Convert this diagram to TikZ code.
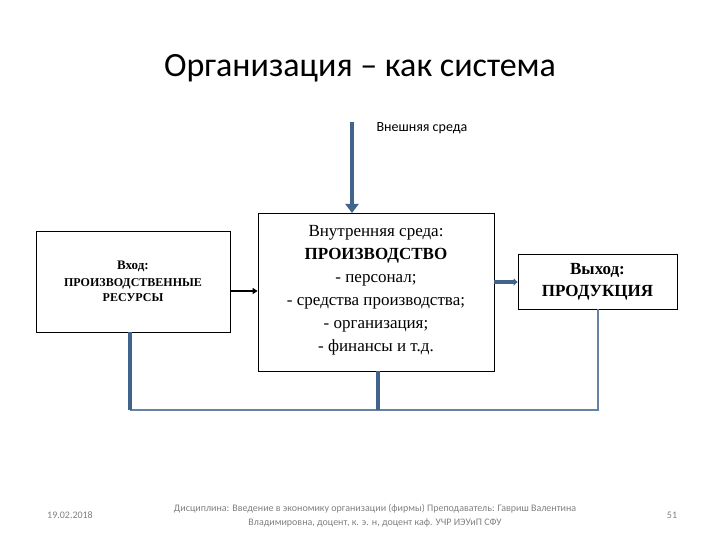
\documentclass[tikz,border=0pt]{standalone}
\usepackage{fontspec}
\setmainfont{Liberation Serif}
\newfontfamily\calfont{Carlito}
\usetikzlibrary{arrows.meta}
\definecolor{linecol}{RGB}{65,100,140}
\begin{document}
\begin{tikzpicture}[x=1pt,y=-1pt,
  box/.style={draw,line width=0.8pt,minimum width=#1,inner sep=0pt,align=center},
  thk/.style={draw=linecol,line width=3.5pt},
  thn/.style={draw=linecol!80,line width=1.2pt}]
\useasboundingbox (0,0) rectangle (720,540);
\node[font=\calfont\fontsize{34}{40}\selectfont] (title) at (360,68) {Организация – как система};
\node[box=194pt,minimum height=101pt] (in) at (133,281.5) {};
\node[align=center,font=\fontsize{12}{15}\selectfont\bfseries] (intext) at (133,281) {{\fontsize{13}{15}\selectfont Вход:}\\[2pt]ПРОИЗВОДСТВЕННЫЕ\\РЕСУРСЫ};
\node[box=236pt,minimum height=158pt] (mid) at (376,292) {};
\node[align=center,font=\fontsize{17}{23}\selectfont] (midtext) at (376,290) {Внутренняя среда:\\\textbf{ПРОИЗВОДСТВО}\\- персонал;\\- средства производства;\\- организация;\\- финансы и т.д.};
\node[box=159pt,minimum height=55pt] (out) at (597.5,281.5) {};
\node[align=center,font=\fontsize{17}{22}\selectfont\bfseries] (outtext) at (597.5,281.5) {Выход:\\ПРОДУКЦИЯ};
\node[font=\calfont\fontsize{14}{16}\selectfont,anchor=west] (env) at (373,128) {Внешняя среда};
\coordinate (top) at (352,122);
\coordinate (cbl) at (130,410);
\coordinate (cbm) at (378,410);
\coordinate (cbr) at (598,410);
\draw[thk,-{Triangle[length=9pt,width=13pt]}] (top) -- (352,213);
\draw[line width=1.5pt,-{Triangle[length=5pt,width=6pt]}] (in.east|-0,291) -- (mid.west|-0,291);
\draw[thk,-{Triangle[length=4pt,width=7pt]}] (mid.east|-0,282) -- (out.west|-0,282);
\draw[thn] (out.south-|cbr) -- (cbr) -- (cbl);
\draw[thk] (cbl) -- (in.south-|cbl);
\draw[thk] (cbm) -- (mid.south-|cbm);
\node[font=\calfont\fontsize{10}{12}\selectfont,text=gray] (date) at (70,515) {19.02.2018};
\node[font=\calfont\fontsize{10}{14}\selectfont,text=gray,align=center] (foot) at (375,516) {Дисциплина: Введение в экономику организации (фирмы) Преподаватель: Гавриш Валентина\\Владимировна, доцент, к. э. н, доцент каф. УЧР ИЭУиП СФУ};
\node[font=\calfont\fontsize{10}{12}\selectfont,text=gray] (pg) at (672,515) {51};
\end{tikzpicture}
\end{document}
